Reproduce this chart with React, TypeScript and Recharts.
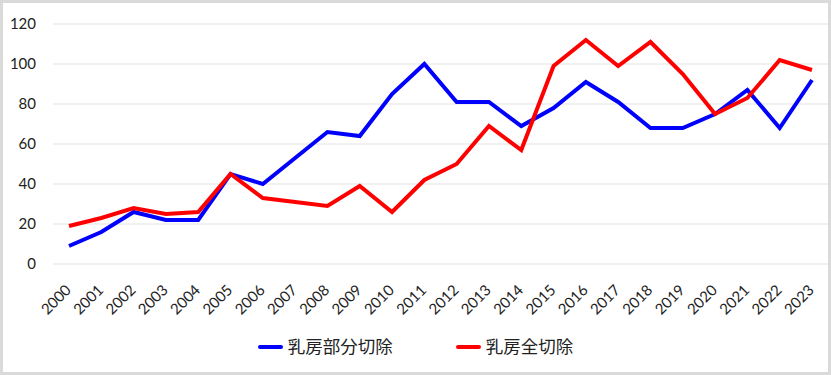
import React from "react";
import { CartesianGrid, Legend, Line, LineChart, XAxis, YAxis } from "recharts";

const years = [
  "2000", "2001", "2002", "2003", "2004", "2005", "2006", "2007", "2008", "2009", "2010", "2011",
  "2012", "2013", "2014", "2015", "2016", "2017", "2018", "2019", "2020", "2021", "2022", "2023",
];
const partial = [9, 16, 26, 22, 22, 45, 40, 53, 66, 64, 85, 100, 81, 81, 69, 78, 91, 81, 68, 68, 75, 87, 68, 92];
const total = [19, 23, 28, 25, 26, 45, 33, 31, 29, 39, 26, 42, 50, 69, 57, 99, 112, 99, 111, 95, 75, 83, 102, 97];
const yTicks = [0, 20, 40, 60, 80, 100, 120];

const seriesInfo = [
  { key: "partial", name: "乳房部分切除", color: "#0000ff" },
  { key: "total", name: "乳房全切除", color: "#ff0000" },
];

const data = years.map((year, i) => ({ year, partial: partial[i], total: total[i] }));

const FONT = "Lato, 'Noto Sans CJK JP', sans-serif";

function XTick(props: any) {
  const { x, y, payload } = props;
  return (
    <text
      transform={`translate(${x + 3},${y + 27}) rotate(-45)`}
      textAnchor="end"
      fontSize={15}
      fontFamily={FONT}
      fill="#222"
    >
      {payload.value}
    </text>
  );
}

function LegendBox() {
  return (
    <div style={{ display: "flex", justifyContent: "center", alignItems: "center", gap: 63, fontFamily: FONT }}>
      {seriesInfo.map((s) => (
        <div key={s.key} style={{ display: "flex", alignItems: "center", gap: 5 }}>
          <span style={{ display: "inline-block", width: 25, height: 4, borderRadius: 2, background: s.color }} />
          <span style={{ fontSize: 17.5, color: "#222", lineHeight: "30px" }}>{s.name}</span>
        </div>
      ))}
    </div>
  );
}

export default function App() {
  return (
    <div
      style={{
        position: "absolute",
        left: 0,
        top: 0,
        width: 831,
        height: 375,
        border: "3px solid #dadada",
        boxSizing: "border-box",
        background: "#fff",
      }}
    >
      <LineChart width={825} height={369} data={data} margin={{ top: 21, right: 0, left: 0, bottom: 10 }}>
        <CartesianGrid stroke="#e3e3e3" vertical={false} />
        <XAxis
          dataKey="year"
          interval={0}
          height={68}
          padding={{ left: 16, right: 16 }}
          tickLine={false}
          axisLine={false}
          tickSize={0}
          tickMargin={0}
          tick={<XTick />}
        />
        <YAxis
          width={50}
          domain={[0, 120]}
          ticks={yTicks}
          tickLine={false}
          axisLine={false}
          tickSize={0}
          tickMargin={17}
          tick={{ fontSize: 15, fill: "#222", fontFamily: FONT }}
        />
        <Legend verticalAlign="bottom" height={30} content={<LegendBox />} />
        {seriesInfo.map((s) => (
          <Line
            key={s.key}
            type="linear"
            dataKey={s.key}
            name={s.name}
            stroke={s.color}
            strokeWidth={4}
            dot={false}
            activeDot={false}
            isAnimationActive={false}
          />
        ))}
      </LineChart>
    </div>
  );
}
